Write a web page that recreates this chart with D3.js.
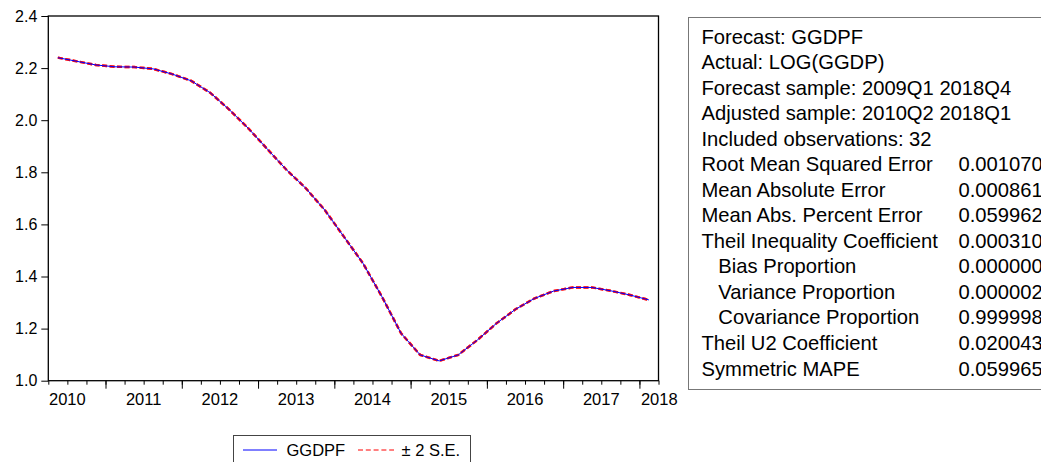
<!DOCTYPE html>
<html>
<head>
<meta charset="utf-8">
<script src="https://cdn.jsdelivr.net/npm/d3@7"></script>
<style>
  body { margin: 0; background: #fff; overflow: hidden; }
  svg { display: block; font-family: "Liberation Sans", Arial, sans-serif; }
</style>
</head>
<body>
<div id="chart"></div>
<script>
// Data: GGDPF forecast, quarterly 2010Q2 .. 2018Q1
const quarters = [
  "2010Q2","2010Q3","2010Q4","2011Q1","2011Q2","2011Q3","2011Q4","2012Q1",
  "2012Q2","2012Q3","2012Q4","2013Q1","2013Q2","2013Q3","2013Q4","2014Q1",
  "2014Q2","2014Q3","2014Q4","2015Q1","2015Q2","2015Q3","2015Q4","2016Q1",
  "2016Q2","2016Q3","2016Q4","2017Q1","2017Q2","2017Q3","2017Q4","2018Q1"
];
const forecast = [
  2.240, 2.226, 2.212, 2.205, 2.204, 2.197, 2.177, 2.151,
  2.105, 2.040, 1.968, 1.888, 1.809, 1.739, 1.655, 1.553,
  1.451, 1.322, 1.182, 1.099, 1.076, 1.099, 1.156, 1.220,
  1.274, 1.316, 1.344, 1.358, 1.358, 1.345, 1.329, 1.310
];
// +/- 2 S.E. bands (indistinguishable from the forecast at this scale)
const upperBand = forecast.slice();
const lowerBand = forecast.slice();

const yTicks = [1.0, 1.2, 1.4, 1.6, 1.8, 2.0, 2.2, 2.4];
const yearLabels = ["2010","2011","2012","2013","2014","2015","2016","2017","2018"];

const statLabels = [
  ["Forecast: GGDPF", ""],
  ["Actual: LOG(GGDP)", ""],
  ["Forecast sample: 2009Q1 2018Q4", ""],
  ["Adjusted sample: 2010Q2 2018Q1", ""],
  ["Included observations: 32", ""],
  ["Root Mean Squared Error", "0.001070"],
  ["Mean Absolute Error", "0.000861"],
  ["Mean Abs. Percent Error", "0.059962"],
  ["Theil Inequality Coefficient", "0.000310"],
  ["   Bias Proportion", "0.000000"],
  ["   Variance Proportion", "0.000002"],
  ["   Covariance Proportion", "0.999998"],
  ["Theil U2 Coefficient", "0.020043"],
  ["Symmetric MAPE", "0.059965"]
];

// Dimensions
const dimensions = {
  width: 1041,
  height: 462,
  plot: { left: 48.3, right: 658.5, top: 16, bottom: 380.7 }
};

const svg = d3.select("#chart")
  .append("svg")
  .attr("width", dimensions.width)
  .attr("height", dimensions.height);

// Scales (x in quarter units, first quarter = 2010Q2)
const xScale = d3.scaleLinear()
  .domain([0, quarters.length])
  .range([dimensions.plot.left, dimensions.plot.right]);
const yScale = d3.scaleLinear()
  .domain([1.0, 2.4])
  .range([dimensions.plot.bottom, dimensions.plot.top]);

// Axes
const yAxis = d3.axisLeft(yScale)
  .tickValues(yTicks)
  .tickFormat(d3.format(".1f"))
  .tickSize(7)
  .tickPadding(4);
const yAxisGroup = svg.append("g")
  .attr("transform", `translate(${dimensions.plot.left},0)`)
  .call(yAxis);
yAxisGroup.select(".domain").remove();
yAxisGroup.selectAll("text").attr("font-size", 16).attr("fill", "#000").attr("font-family", null);
yAxisGroup.selectAll("line").attr("stroke", "#000");

// year boundaries: 2011Q1 is index 3
const allTicks = d3.range(0, quarters.length + 1);
const majorTicks = allTicks.filter((k) => k > 0 && k < quarters.length && (k - 3) % 4 === 0);

const xMinor = svg.append("g")
  .attr("transform", `translate(0,${dimensions.plot.bottom})`)
  .call(d3.axisBottom(xScale).tickValues(allTicks).tickSize(4).tickFormat(""));
xMinor.select(".domain").remove();
const xMajor = svg.append("g")
  .attr("transform", `translate(0,${dimensions.plot.bottom})`)
  .call(d3.axisBottom(xScale).tickValues(majorTicks).tickSize(8).tickFormat(""));
xMajor.select(".domain").remove();
svg.selectAll(".tick line").attr("stroke", "#000");

// year labels centred on each year (2010 starts one quarter before the axis)
svg.append("g")
  .selectAll("text")
  .data(yearLabels)
  .join("text")
  .attr("x", (d, i) => i === yearLabels.length - 1
    ? xScale(i * 4 - 1) + 1.5
    : xScale(i * 4 - 1 + 2))
  .attr("y", 405)
  .attr("text-anchor", (d, i) => i === yearLabels.length - 1 ? "start" : "middle")
  .attr("font-size", 16.5)
  .attr("fill", "#000")
  .text((d) => d);

// Plot frame
svg.append("rect")
  .attr("x", dimensions.plot.left)
  .attr("y", dimensions.plot.top)
  .attr("width", dimensions.plot.right - dimensions.plot.left)
  .attr("height", dimensions.plot.bottom - dimensions.plot.top)
  .attr("fill", "none")
  .attr("stroke", "#000")
  .attr("stroke-width", 1.3);

// Lines
const line = d3.line()
  .x((d, i) => xScale(i + 0.5))
  .y((d) => yScale(d));

[upperBand, lowerBand].forEach((band) => {
  svg.append("path")
    .datum(band)
    .attr("d", line)
    .attr("fill", "none")
    .attr("stroke", "#ff0000")
    .attr("stroke-opacity", 0.8)
    .attr("stroke-width", 2.4)
    .attr("stroke-dasharray", "5,2.5");
});
svg.append("path")
  .datum(forecast)
  .attr("d", line)
  .attr("fill", "none")
  .attr("stroke", "#0000ff")
  .attr("stroke-width", 1);

// Legend
const legend = svg.append("g");
legend.append("rect")
  .attr("x", 233.5).attr("y", 435.5)
  .attr("width", 237).attr("height", 40)
  .attr("fill", "#fff")
  .attr("stroke", "#444");
legend.append("line")
  .attr("x1", 243).attr("x2", 277).attr("y1", 450).attr("y2", 450)
  .attr("stroke", "#0000ff").attr("stroke-width", 1);
legend.append("text")
  .attr("x", 286.5).attr("y", 455.5)
  .attr("font-size", 16.5).attr("fill", "#000")
  .text("GGDPF");
legend.append("line")
  .attr("x1", 358).attr("x2", 394).attr("y1", 450).attr("y2", 450)
  .attr("stroke", "#ff0000").attr("stroke-width", 1)
  .attr("stroke-dasharray", "5,2.8");
legend.append("text")
  .attr("x", 401.5).attr("y", 455.5)
  .attr("font-size", 16.5).attr("fill", "#000")
  .text("± 2 S.E.");

// Statistics box
const stats = svg.append("g");
stats.append("rect")
  .attr("x", 688.5).attr("y", 17.5)
  .attr("width", 400).attr("height", 372)
  .attr("fill", "#fff")
  .attr("stroke", "#777");

const rowY = (i) => 43.5 + i * 25.54;
stats.selectAll("text.label")
  .data(statLabels)
  .join("text")
  .attr("class", "label")
  .attr("x", 701.5)
  .attr("y", (d, i) => rowY(i))
  .attr("font-size", 20.2)
  .attr("fill", "#000")
  .attr("xml:space", "preserve")
  .style("white-space", "pre")
  .text((d) => d[0]);
stats.selectAll("text.value")
  .data(statLabels)
  .join("text")
  .attr("class", "value")
  .attr("x", 958.5)
  .attr("y", (d, i) => rowY(i))
  .attr("font-size", 20.2)
  .attr("fill", "#000")
  .text((d) => d[1]);
</script>
</body>
</html>
